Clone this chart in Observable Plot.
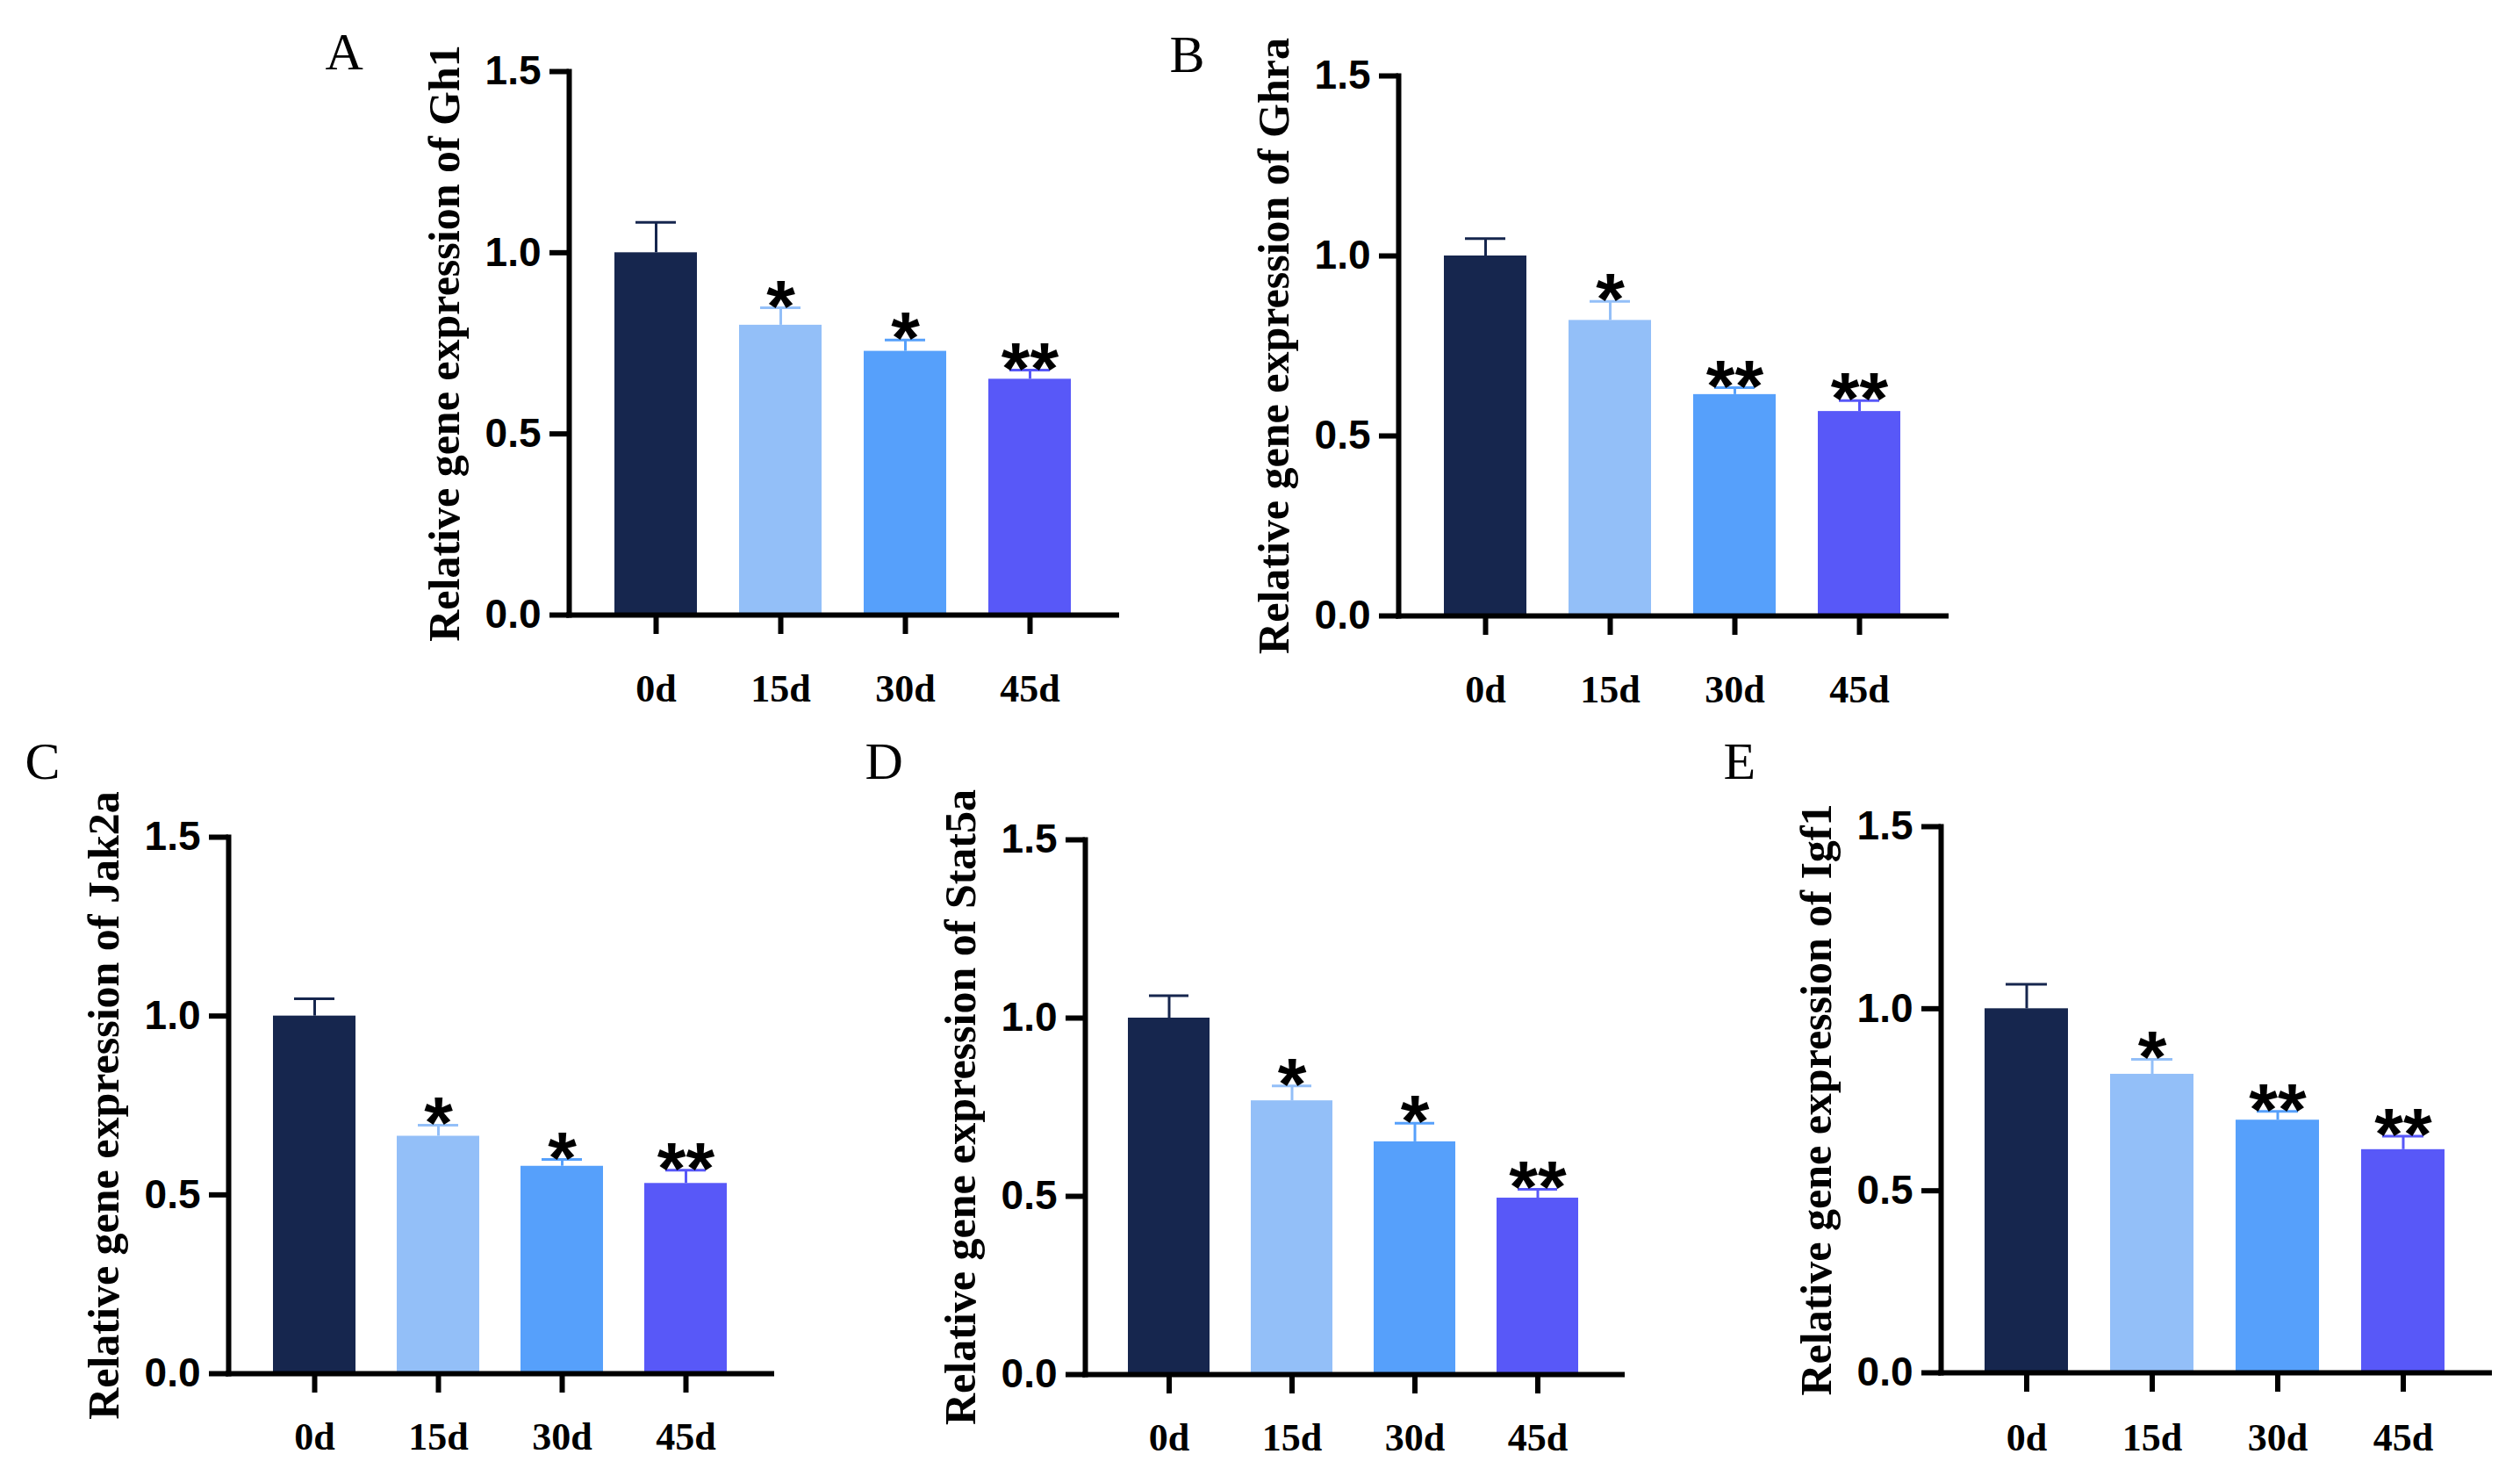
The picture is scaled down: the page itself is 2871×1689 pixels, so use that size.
<!DOCTYPE html>
<html><head><meta charset="utf-8">
<script src="https://cdn.jsdelivr.net/npm/d3@7"></script>
<script src="https://cdn.jsdelivr.net/npm/@observablehq/plot@0.6"></script>
<style>
html,body{margin:0;padding:0;background:#fff;}
#fig{position:relative;width:2871px;height:1689px;overflow:hidden;background:#fff;}
#fig svg{position:absolute;}
g[aria-label="stars"] text{letter-spacing:6px;}
</style></head><body><div id="fig"></div>
<script>
// ---- data ----
const days = ["0d", "15d", "30d", "45d"];
const dayColors = ["#16264e", "#93bff8", "#56a0fb", "#5858f8"];
const yTicks = [0, 0.5, 1.0, 1.5];
const panelLetters = ["A", "B", "C", "D", "E"];
const genes = ["Gh1", "Ghra", "Jak2a", "Stat5a", "Igf1"];

const meanGh1 = [1.00, 0.800, 0.728, 0.651];
const semGh1  = [0.084, 0.048, 0.031, 0.025];
const starsGh1 = ["", "*", "*", "**"];

const meanGhra = [1.00, 0.821, 0.615, 0.568];
const semGhra  = [0.048, 0.053, 0.019, 0.030];
const starsGhra = ["", "*", "**", "**"];

const meanJak2a = [1.00, 0.664, 0.580, 0.532];
const semJak2a  = [0.048, 0.031, 0.019, 0.037];
const starsJak2a = ["", "*", "*", "**"];

const meanStat5a = [1.00, 0.768, 0.653, 0.495];
const semStat5a  = [0.063, 0.042, 0.052, 0.025];
const starsStat5a = ["", "*", "*", "**"];

const meanIgf1 = [1.00, 0.820, 0.694, 0.613];
const semIgf1  = [0.067, 0.041, 0.024, 0.037];
const starsIgf1 = ["", "*", "**", "**"];

const means = [meanGh1, meanGhra, meanJak2a, meanStat5a, meanIgf1];
const sems = [semGh1, semGhra, semJak2a, semStat5a, semIgf1];
const stars = [starsGh1, starsGhra, starsJak2a, starsStat5a, starsIgf1];

// ---- layout (page pixel frames of each panel) ----
const frames = [
  {left: 648, right: 1272, top: 81, bottom: 700, xPad: 45, ldx: -278, ldy: -3},
  {left: 1593, right: 2217, top: 86, bottom: 701, xPad: 45, ldx: -261, ldy: -5},
  {left: 260, right: 879, top: 953, bottom: 1564, xPad: 33, ldx: -232, ldy: -67},
  {left: 1236, right: 1848, top: 956, bottom: 1565, xPad: 33, ldx: -251, ldy: -70},
  {left: 2211, right: 2836, top: 941, bottom: 1563, xPad: 35, ldx: -248, ldy: -55}
];
const M = {left: 300, right: 20, top: 110, bottom: 130};
const fig = document.getElementById("fig");

genes.forEach((gene, k) => {
  const f = frames[k];
  const rows = days.map((day, i) => ({day, mean: means[k][i], sem: sems[k][i], star: stars[k][i]}));
  const w = f.right - f.left + M.left + M.right;
  const h = f.bottom - f.top + M.top + M.bottom;
  const svg = Plot.plot({
    width: w, height: h,
    marginLeft: M.left, marginRight: M.right, marginTop: M.top, marginBottom: M.bottom,
    style: {background: "transparent", overflow: "visible", fontFamily: "Liberation Sans", color: "black"},
    x: {domain: days, paddingInner: 0.335, paddingOuter: 0.35, label: null},
    y: {domain: [0, 1.5], label: null},
    color: {domain: days, range: dayColors},
    marks: [
      Plot.barY(rows, {x: "day", y: "mean", fill: "day"}),
      Plot.ruleX(rows, {x: "day", y1: "mean", y2: d => d.mean + d.sem, stroke: "day", strokeWidth: 3}),
      Plot.tickY(rows, {x: "day", y: d => d.mean + d.sem, stroke: "day", strokeWidth: 3, insetLeft: 24, insetRight: 24}),
      Plot.text(rows, {x: "day", y: d => d.mean + d.sem, text: "star", lineAnchor: "bottom", dy: 27,
        fontSize: 84, fontWeight: "bold", fontFamily: "Liberation Sans", fill: "black", ariaLabel: "stars"}),
      Plot.axisY({ticks: yTicks, tickFormat: d3.format(".1f"), tickSize: 22, tickPadding: 10, strokeWidth: 6,
        fontSize: 46, fontWeight: "bold", fontFamily: "Liberation Sans", label: null}),
      Plot.axisX({tickSize: 22, tickPadding: f.xPad, strokeWidth: 6, fontSize: 44, fontWeight: "bold",
        fontFamily: "Liberation Serif", label: null}),
      Plot.ruleY([0], {strokeWidth: 6, strokeLinecap: "square"}),
      Plot.frame({anchor: "left", strokeWidth: 6}),
      Plot.text([`Relative gene expression of ${gene}`], {frameAnchor: "left", rotate: -90, dx: -142, text: d => d,
        textAnchor: "middle", lineAnchor: "middle",
        fontSize: 50, fontWeight: "bold", fontFamily: "Liberation Serif", fill: "black"}),
      Plot.text([panelLetters[k]], {frameAnchor: "top-left", text: d => d, textAnchor: "start", lineAnchor: "bottom",
        dx: f.ldx, dy: f.ldy, fontSize: 60, fontFamily: "Liberation Serif", fill: "black"})
    ]
  });
  svg.style.left = (f.left - M.left) + "px";
  svg.style.top = (f.top - M.top) + "px";
  fig.appendChild(svg);
});
</script></body></html>
